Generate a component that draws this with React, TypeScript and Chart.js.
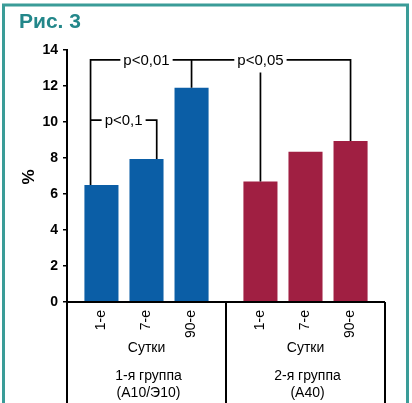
import React, { useEffect, useRef } from "react";
import { Chart, registerables } from "chart.js";

Chart.register(...registerables);

// ---- data ----
const figureTitle = "Рис. 3";
const yAxisTitle = "%";
const days = ["1-е", "7-е", "90-е"];
const periodLabel = "Сутки";
const groupLine1 = ["1-я группа", "2-я группа"];
const groupLine2 = ["(А10/Э10)", "(А40)"];
const group1Values = [6.5, 7.95, 11.9];
const group2Values = [6.7, 8.35, 8.95];
const yMin = 0;
const yMax = 14;
const yStep = 2;
const pLabels = ["p<0,01", "p<0,05", "p<0,1"];
const bracketLevels = [13.45, 10.1, 12.75];

// ---- styles ----
const BLUE = "#0b5ea6";
const RED = "#a01f42";
const TEAL = "#3a9c98";
const TEAL_TITLE = "#23878a";
const FONT = "'Liberation Sans', Arial, sans-serif";

const decorPlugin = {
  id: "decor",
  beforeDraw(chart: any) {
    const { ctx, width, height } = chart;
    ctx.save();
    ctx.fillStyle = "#fff";
    ctx.fillRect(0, 0, width, height);
    // frame
    ctx.strokeStyle = TEAL;
    ctx.lineWidth = 3;
    ctx.beginPath();
    ctx.moveTo(3.5, height);
    ctx.lineTo(3.5, 5);
    ctx.lineTo(407.5, 5);
    ctx.lineTo(407.5, height);
    ctx.stroke();
    // title
    ctx.fillStyle = TEAL_TITLE;
    ctx.font = `bold 21px ${FONT}`;
    ctx.textAlign = "left";
    ctx.textBaseline = "alphabetic";
    ctx.fillText(figureTitle, 19, 28);
    // y title
    ctx.translate(29, 177);
    ctx.rotate(-Math.PI / 2);
    ctx.font = `bold 17px ${FONT}`;
    ctx.textAlign = "center";
    ctx.textBaseline = "middle";
    ctx.fillStyle = "#000";
    ctx.fillText(yAxisTitle, 0, 0);
    ctx.restore();
  },
  afterDatasetsDraw(chart: any) {
    const { ctx, chartArea, scales, height } = chart;
    const xs = scales.x;
    const ys = scales.y;
    const bar = (g: number, d: number) => chart.getDatasetMeta(d).data[g];
    ctx.save();
    ctx.strokeStyle = "#000";
    ctx.fillStyle = "#000";
    ctx.lineWidth = 2;
    // x axis line and group separators below
    const base = chartArea.bottom;
    const divider = (xs.getPixelForValue(0) + xs.getPixelForValue(1)) / 2;
    ctx.beginPath();
    ctx.moveTo(chartArea.left - 1, base);
    ctx.lineTo(chartArea.right, base);
    [chartArea.left, divider, chartArea.right].forEach((x) => {
      ctx.moveTo(x, base);
      ctx.lineTo(x, height);
    });
    ctx.stroke();

    // labels under axis
    ctx.font = `14px ${FONT}`;
    for (let g = 0; g < 2; g++) {
      for (let d = 0; d < days.length; d++) {
        const el = bar(g, d);
        ctx.save();
        ctx.translate(el.x, base + 8);
        ctx.rotate(-Math.PI / 2);
        ctx.textAlign = "right";
        ctx.textBaseline = "middle";
        ctx.fillText(days[d], 0, 0);
        ctx.restore();
      }
      const cx = bar(g, 1).x;
      ctx.textAlign = "center";
      ctx.textBaseline = "middle";
      ctx.fillText(periodLabel, cx, 348);
      ctx.fillText(groupLine1[g], cx + 2, 376);
      ctx.fillText(groupLine2[g], cx + 2, 393);
    }

    // significance brackets
    ctx.lineWidth = 1.7;
    const yTop = ys.getPixelForValue(bracketLevels[0]);
    const yLow = ys.getPixelForValue(bracketLevels[1]);
    const yMid = ys.getPixelForValue(bracketLevels[2]);
    const b1 = bar(0, 0), b2 = bar(0, 1), b3 = bar(0, 2), b4 = bar(1, 0), b6 = bar(1, 2);
    const legA = b1.x - 0.32 * b1.width;
    const legB = b2.x + 0.3 * b2.width;
    ctx.beginPath();
    ctx.moveTo(legA, b1.y);
    ctx.lineTo(legA, yTop);
    ctx.lineTo(b6.x, yTop);
    ctx.lineTo(b6.x, b6.y);
    ctx.moveTo(b3.x, yTop);
    ctx.lineTo(b3.x, b3.y);
    ctx.moveTo(b4.x, yMid);
    ctx.lineTo(b4.x, b4.y);
    ctx.moveTo(legA, yLow);
    ctx.lineTo(legB, yLow);
    ctx.lineTo(legB, b2.y);
    ctx.stroke();

    const label = (text: string, x: number, y: number) => {
      ctx.font = `15px ${FONT}`;
      const w = ctx.measureText(text).width;
      ctx.fillStyle = "#fff";
      ctx.fillRect(x - w / 2 - 3, y - 7, w + 6, 14);
      ctx.fillStyle = "#000";
      ctx.textAlign = "center";
      ctx.textBaseline = "alphabetic";
      ctx.fillText(text, x, y + 5);
    };
    label(pLabels[0], b2.x, yTop);
    label(pLabels[1], b4.x, yTop);
    label(pLabels[2], (legA + legB) / 2, yLow);
    ctx.restore();
  },
};

export default function App() {
  const ref = useRef<HTMLCanvasElement | null>(null);
  useEffect(() => {
    if (!ref.current) return;
    const chart = new Chart(ref.current, {
      type: "bar",
      data: {
        labels: groupLine1,
        datasets: days.map((d, i) => ({
          label: d,
          data: [group1Values[i], group2Values[i]],
          backgroundColor: [BLUE, RED],
          borderWidth: 0,
        })),
      },
      options: {
        responsive: false,
        animation: false,
        layout: { padding: { top: 50, right: 27, left: 0, bottom: 0 } },
        datasets: { bar: { categoryPercentage: 0.85, barPercentage: 0.756 } } as any,
        plugins: {
          legend: { display: false },
          title: { display: false },
          tooltip: { enabled: false },
        },
        scales: {
          x: {
            type: "category",
            offset: true,
            grid: { display: false },
            border: { display: false },
            ticks: { display: false },
            afterFit: (s: any) => {
              s.height = 101;
            },
          },
          y: {
            min: yMin,
            max: yMax,
            ticks: {
              stepSize: yStep,
              color: "#000",
              padding: 5,
              font: { family: FONT, size: 14, weight: "bold" },
            },
            grid: {
              drawOnChartArea: false,
              drawTicks: true,
              tickLength: 4,
              color: "#000",
              lineWidth: 1.5,
            },
            border: { display: true, color: "#000", width: 2 },
            afterFit: (s: any) => {
              s.width = 67;
            },
          },
        },
      },
      plugins: [decorPlugin],
    });
    return () => chart.destroy();
  }, []);
  return (
    <div style={{ position: "fixed", left: 0, top: 0, width: 412, height: 403, background: "#fff" }}>
      <canvas ref={ref} width={412} height={403} style={{ display: "block" }} />
    </div>
  );
}
